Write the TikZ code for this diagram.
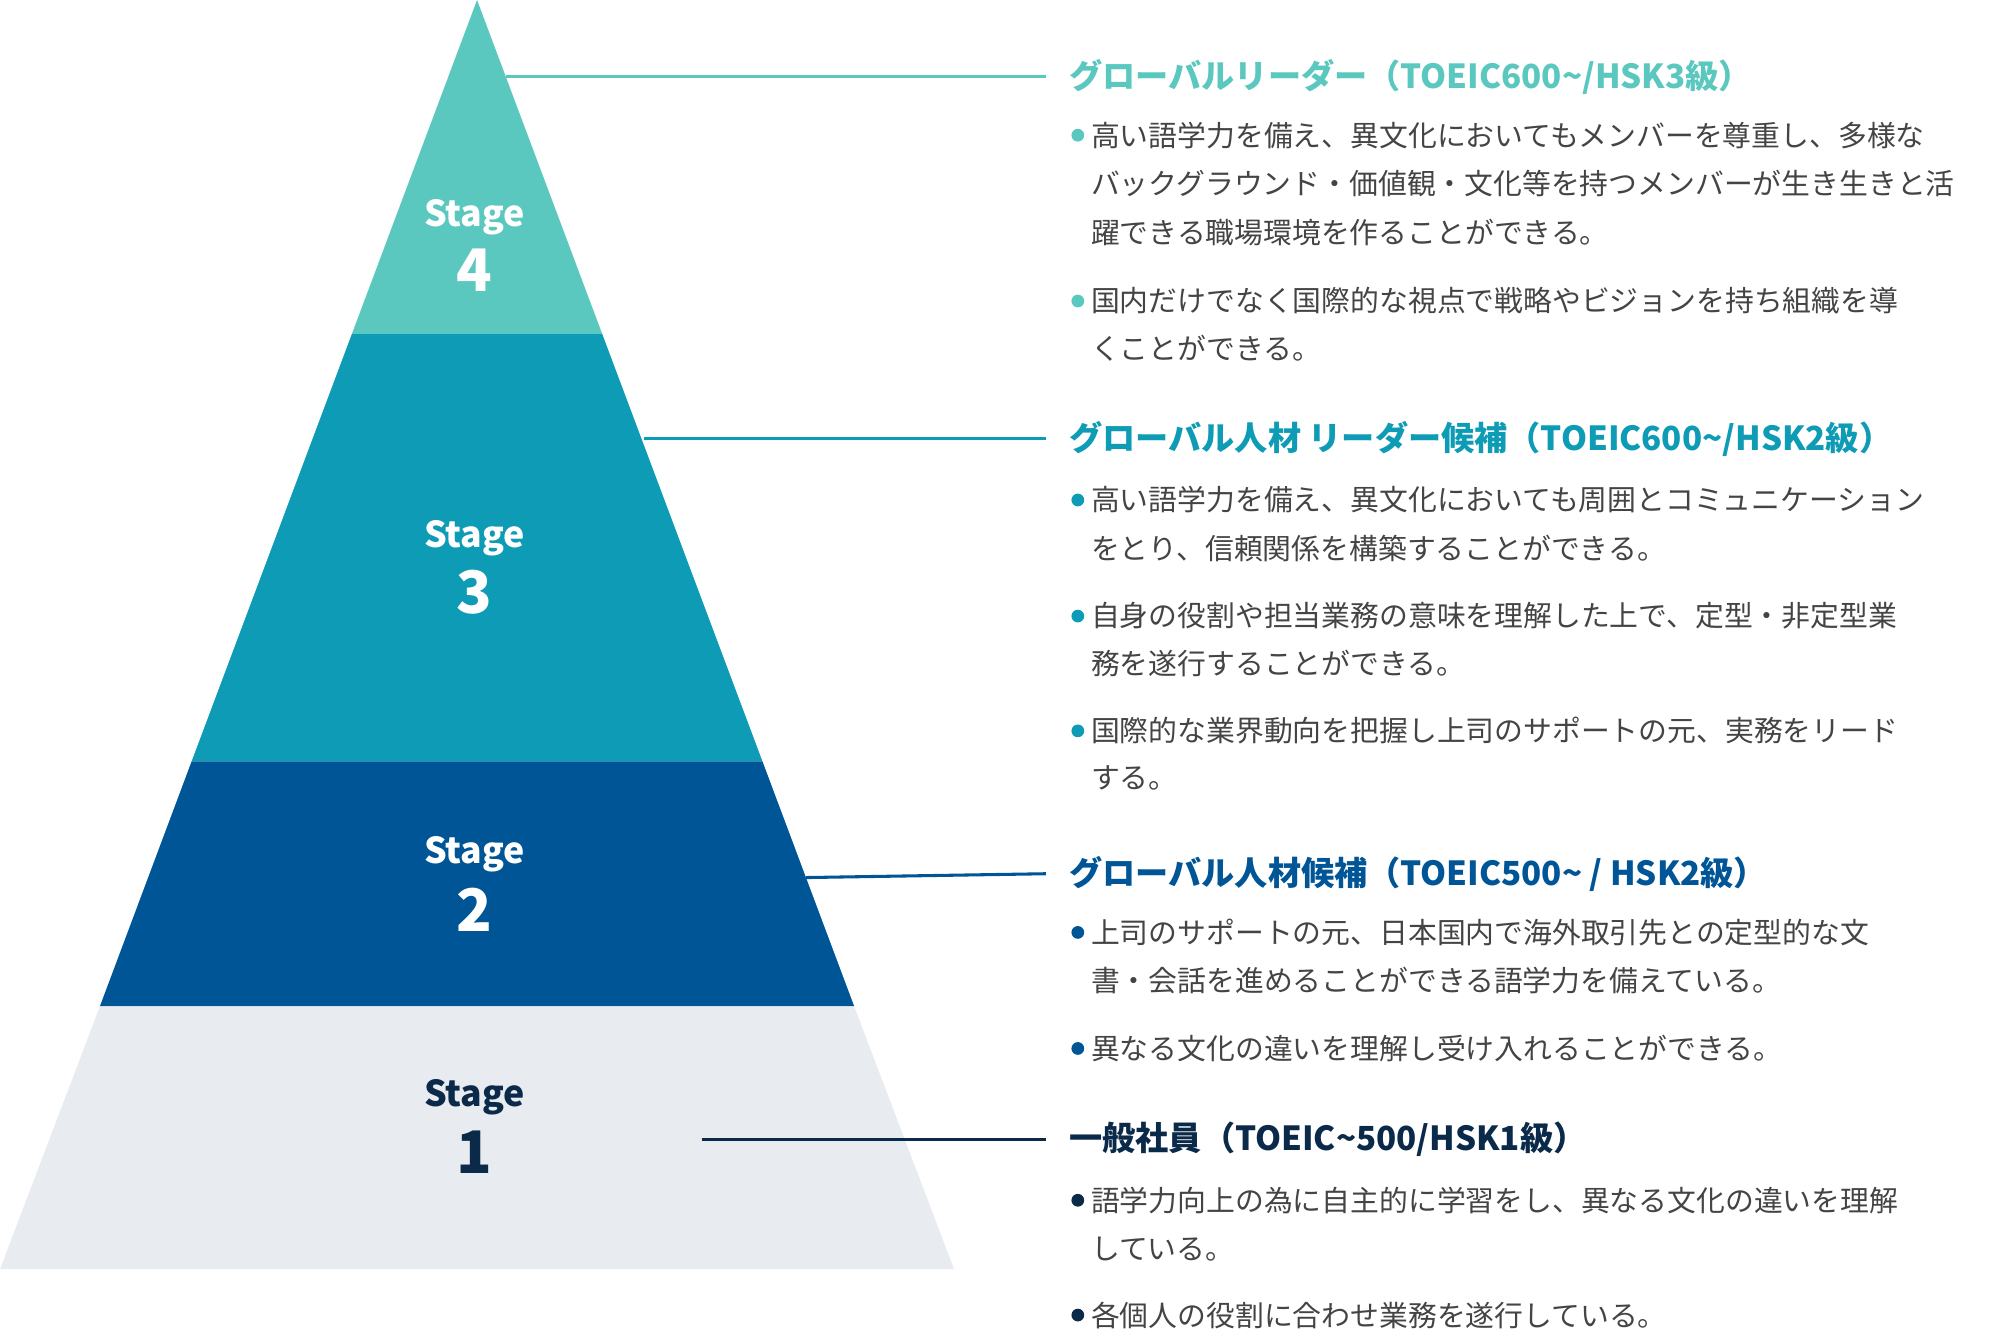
\documentclass[tikz,border=0pt]{standalone}
\usepackage{fontspec}
\setmainfont{Noto Sans CJK JP}
\usetikzlibrary{positioning}
\definecolor{stfour}{HTML}{5BC8C0}
\definecolor{stthree}{HTML}{0E9BB5}
\definecolor{sttwo}{HTML}{005596}
\definecolor{stone}{HTML}{E8ECF1}
\definecolor{navy}{HTML}{0B2A4A}
\definecolor{bodytxt}{HTML}{444444}
\tikzset{
  head/.style={anchor=west,inner sep=0pt,font=\fontsize{13}{15}\selectfont\bfseries},
  body/.style={anchor=west,inner sep=0pt,text=bodytxt,font=\fontsize{11.3}{14}\selectfont},
  dot/.style={circle,inner sep=0pt,minimum size=5pt},
  stagelbl/.style={inner sep=0pt,font=\fontsize{14}{16}\selectfont\bfseries},
  stagenum/.style={inner sep=0pt,font=\fontsize{23}{25}\selectfont\bfseries},
  leader/.style={line width=1.2pt}
}
\begin{document}
\begin{tikzpicture}[x=0.5pt,y=-0.5pt]
\useasboundingbox (0,0) rectangle (1568,1044);
% pyramid bands
\fill[stfour] (374,0) -- (472.2,262) -- (275.8,262) -- cycle;
\fill[stthree] (275.8,262) -- (472.2,262) -- (597.8,597) -- (150.2,597) -- cycle;
\fill[sttwo] (150.2,597) -- (597.8,597) -- (669.7,789) -- (78.3,789) -- cycle;
\fill[stone] (78.3,789) -- (669.7,789) -- (748,995) -- (0,995) -- cycle;
% stage labels
\node[stagelbl,text=white] (s4) at (372,170) {Stage};
\node[stagenum,text=white] (n4) at (372,212) {4};
\node[stagelbl,text=white] (s3) at (372,422) {Stage};
\node[stagenum,text=white] (n3) at (372,464) {3};
\node[stagelbl,text=white] (s2) at (372,670) {Stage};
\node[stagenum,text=white] (n2) at (372,713) {2};
\node[stagelbl,text=navy] (s1) at (372,860) {Stage};
\node[stagenum,text=navy] (n1) at (372,903) {1};
% headings
\node[head,text=stfour] (h4) at (838,60) {グローバルリーダー（TOEIC600\textasciitilde/HSK3級）};
\node[head,text=stthree] (h3) at (838,344) {グローバル人材 リーダー候補（TOEIC600\textasciitilde/HSK2級）};
\node[head,text=sttwo] (h2) at (838,685) {グローバル人材候補（TOEIC500\textasciitilde{} / HSK2級）};
\node[head,text=navy] (h1) at (838,893) {一般社員（TOEIC\textasciitilde500/HSK1級）};
% leaders
\coordinate (p4) at (397,60);
\coordinate (p3) at (505,344);
\coordinate (p2) at (632,688);
\coordinate (p1) at (550,893);
\draw[leader,stfour] (p4) -- (h4.west -| 820,0);
\draw[leader,stthree] (p3) -- (h3.west -| 820,0);
\draw[leader,sttwo] (p2) -- (h2.west -| 820,0);
\draw[leader,navy] (p1) -- (h1.west -| 820,0);
% stage 4 text
\node[dot,fill=stfour] (d41) at (845,106) {};
\node[body] (b41) at (855,106) {高い語学力を備え、異文化においてもメンバーを尊重し、多様な};
\node[body] (b42) at (855,144) {バックグラウンド・価値観・文化等を持つメンバーが生き生きと活};
\node[body] (b43) at (855,182) {躍できる職場環境を作ることができる。};
\node[dot,fill=stfour] (d42) at (845,236) {};
\node[body] (b44) at (855,236) {国内だけでなく国際的な視点で戦略やビジョンを持ち組織を導};
\node[body] (b45) at (855,273) {くことができる。};
% stage 3 text
\node[dot,fill=stthree] (d31) at (845,392) {};
\node[body] (b31) at (855,392) {高い語学力を備え、異文化においても周囲とコミュニケーション};
\node[body] (b32) at (855,430) {をとり、信頼関係を構築することができる。};
\node[dot,fill=stthree] (d32) at (845,483) {};
\node[body] (b33) at (855,483) {自身の役割や担当業務の意味を理解した上で、定型・非定型業};
\node[body] (b34) at (855,520) {務を遂行することができる。};
\node[dot,fill=stthree] (d33) at (845,573) {};
\node[body] (b35) at (855,573) {国際的な業界動向を把握し上司のサポートの元、実務をリード};
\node[body] (b36) at (855,610) {する。};
% stage 2 text
\node[dot,fill=sttwo] (d21) at (845,731) {};
\node[body] (b21) at (855,731) {上司のサポートの元、日本国内で海外取引先との定型的な文};
\node[body] (b22) at (855,769) {書・会話を進めることができる語学力を備えている。};
\node[dot,fill=sttwo] (d22) at (845,822) {};
\node[body] (b23) at (855,822) {異なる文化の違いを理解し受け入れることができる。};
% stage 1 text
\node[dot,fill=navy] (d11) at (845,941) {};
\node[body] (b11) at (855,941) {語学力向上の為に自主的に学習をし、異なる文化の違いを理解};
\node[body] (b12) at (855,979) {している。};
\node[dot,fill=navy] (d12) at (845,1031) {};
\node[body] (b13) at (855,1031) {各個人の役割に合わせ業務を遂行している。};
\end{tikzpicture}
\end{document}
